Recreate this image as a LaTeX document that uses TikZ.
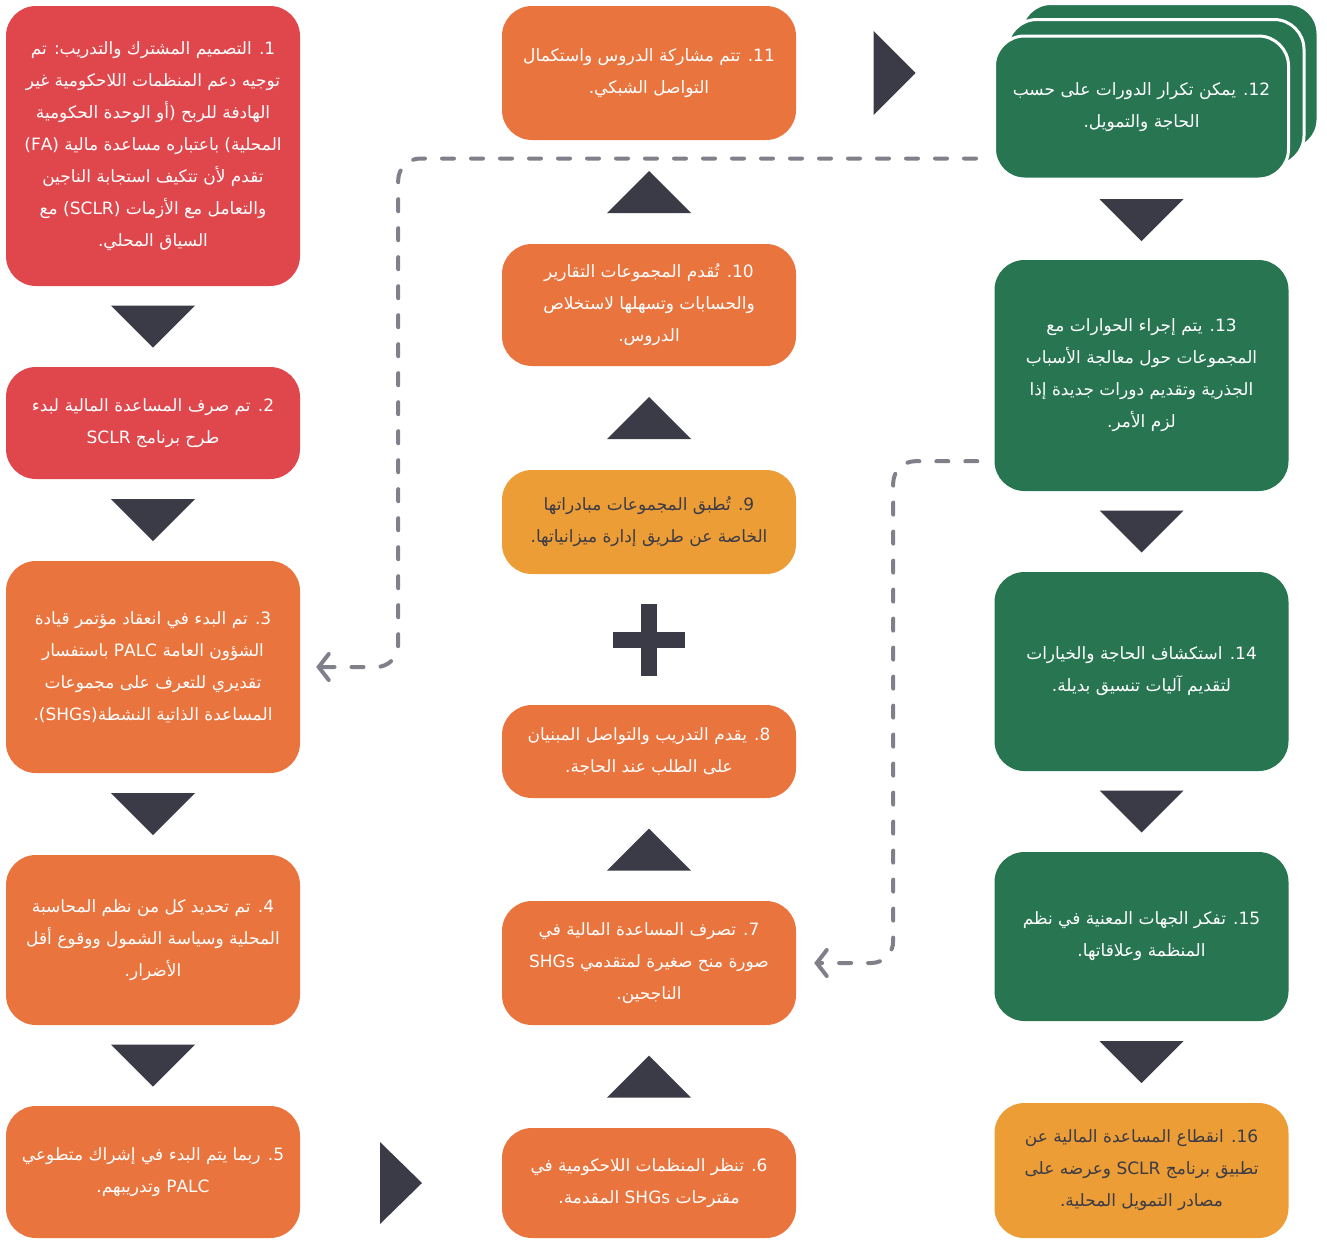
\documentclass[tikz,border=0pt]{standalone}
\usepackage{fontspec}
\usetikzlibrary{calc,arrows.meta,backgrounds}
\TeXXeTstate=1
\newfontfamily\arabicfont[Script=Arabic]{DejaVu Sans}
\definecolor{cRed}{HTML}{E0474C}
\definecolor{cOrange}{HTML}{EA743E}
\definecolor{cAmber}{HTML}{EC9D36}
\definecolor{cGreen}{HTML}{287552}
\definecolor{cDark}{HTML}{3B3B47}
\definecolor{cDash}{HTML}{80808A}
\newcommand\RL[1]{\beginR #1\endR}
\newcommand\downtri[2]{\fill[cDark] ($(#1.south)!.5!(#2.north)$) +(-42,-21) -- +(42,-21) -- +(0,21) -- cycle;}
\newcommand\uptri[2]{\fill[cDark] ($(#1.north)!.5!(#2.south)$) +(-42,21) -- +(42,21) -- +(0,-21) -- cycle;}
\begin{document}
\begin{tikzpicture}[x=1pt,y=-1pt,
  box/.style={rounded corners=30pt, minimum width=294pt, inner sep=0pt, align=center,
    text=white, font=\arabicfont\fontsize{17}{32}\selectfont},
  redbox/.style={box, fill=cRed},
  orbox/.style={box, fill=cOrange},
  ambox/.style={box, fill=cAmber, text=cDark},
  grbox/.style={box, fill=cGreen},
  stackbox/.style={grbox, draw=white, line width=3pt},
  dashline/.style={draw=cDash, line width=4pt, line cap=round, dash pattern=on 12pt off 17pt,
    rounded corners=22pt, -{Straight Barb[length=10pt,width=26pt,line cap=round]}}]
\useasboundingbox (0,0) rectangle (1327,1240);
\begin{scope}[on background layer]
\fill[white] (0,0) rectangle (1327,1240);
\end{scope}

% left column
\node[redbox, minimum height=280pt] (n1) at (153,146) {\RL{1. التصميم المشترك والتدريب: تم}\\\RL{توجيه دعم المنظمات اللاحكومية غير}\\\RL{الهادفة للربح (أو الوحدة الحكومية}\\\RL{المحلية) باعتباره مساعدة مالية (FA)}\\\RL{تقدم لأن تتكيف استجابة الناجين}\\\RL{والتعامل مع الأزمات (SCLR) مع}\\\RL{السياق المحلي.}};
\node[redbox, minimum height=112pt] (n2) at (153,423) {\RL{2. تم صرف المساعدة المالية لبدء}\\\RL{طرح برنامج SCLR}};
\node[orbox, minimum height=212pt] (n3) at (153,667) {\RL{3. تم البدء في انعقاد مؤتمر قيادة}\\\RL{الشؤون العامة PALC باستفسار}\\\RL{تقديري للتعرف على مجموعات}\\\RL{المساعدة الذاتية النشطة(SHGs).}};
\node[orbox, minimum height=170pt] (n4) at (153,940) {\RL{4. تم تحديد كل من نظم المحاسبة}\\\RL{المحلية وسياسة الشمول ووقوع أقل}\\\RL{الأضرار.}};
\node[orbox, minimum height=132pt] (n5) at (153,1172) {\RL{5. ربما يتم البدء في إشراك متطوعي}\\\RL{PALC وتدريبهم.}};

% middle column
\node[orbox, minimum height=134pt] (n11) at (649,73) {\RL{11. تتم مشاركة الدروس واستكمال}\\\RL{التواصل الشبكي.}};
\node[orbox, minimum height=122pt] (n10) at (649,305) {\RL{10. تُقدم المجموعات التقارير}\\\RL{والحسابات وتسهلها لاستخلاص}\\\RL{الدروس.}};
\node[ambox, minimum height=104pt] (n9) at (649,522) {\RL{9. تُطبق المجموعات مبادراتها}\\\RL{الخاصة عن طريق إدارة ميزانياتها.}};
\node[orbox, minimum height=93pt] (n8) at (649,751.5) {\RL{8. يقدم التدريب والتواصل المبنيان}\\\RL{على الطلب عند الحاجة.}};
\node[orbox, minimum height=124pt] (n7) at (649,963) {\RL{7. تصرف المساعدة المالية في}\\\RL{صورة منح صغيرة لمتقدمي SHGs}\\\RL{الناجحين.}};
\node[orbox, minimum height=110pt] (n6) at (649,1183) {\RL{6. تنظر المنظمات اللاحكومية في}\\\RL{مقترحات SHGs المقدمة.}};

% right column
\node[stackbox, minimum height=143pt] (n12) at (1141.5,107.5) {\RL{12. يمكن تكرار الدورات على حسب}\\\RL{الحاجة والتمويل.}};
\begin{scope}[on background layer]
\draw[fill=cGreen, draw=white, line width=3pt, rounded corners=30pt] ($(n12.south west)+(28,-31)$) rectangle ($(n12.north east)+(28,-31)$);
\draw[fill=cGreen, draw=white, line width=3pt, rounded corners=30pt] ($(n12.south west)+(14,-15)$) rectangle ($(n12.north east)+(14,-15)$);
\end{scope}
\node[grbox, minimum height=231pt] (n13) at (1141.5,375.5) {\RL{13. يتم إجراء الحوارات مع}\\\RL{المجموعات حول معالجة الأسباب}\\\RL{الجذرية وتقديم دورات جديدة إذا}\\\RL{لزم الأمر.}};
\node[grbox, minimum height=199pt] (n14) at (1141.5,671.5) {\RL{14. استكشاف الحاجة والخيارات}\\\RL{لتقديم آليات تنسيق بديلة.}};
\node[grbox, minimum height=169pt] (n15) at (1141.5,936.5) {\RL{15. تفكر الجهات المعنية في نظم}\\\RL{المنظمة وعلاقاتها.}};
\node[ambox, minimum height=135pt] (n16) at (1141.5,1170.5) {\RL{16. انقطاع المساعدة المالية عن}\\\RL{تطبيق برنامج SCLR وعرضه على}\\\RL{مصادر التمويل المحلية.}};

% block arrows
\downtri{n1}{n2}
\downtri{n2}{n3}
\downtri{n3}{n4}
\downtri{n4}{n5}
\uptri{n6}{n7}
\uptri{n7}{n8}
\uptri{n9}{n10}
\uptri{n10}{n11}
\downtri{n12}{n13}
\downtri{n13}{n14}
\downtri{n14}{n15}
\downtri{n15}{n16}
\coordinate (m56) at ($(n5.east)!.5!(n6.west)$);
\coordinate (m1112) at ($(n11.east)!.5!(n12.west)$);
\fill[cDark] (m56 |- n6.west) +(-21,-41) -- +(-21,41) -- +(21,0) -- cycle;
\fill[cDark] (m1112 |- n11.east) +(-21,-42) -- +(-21,42) -- +(21,0) -- cycle;
% plus sign
\coordinate (plus) at ($(n8.north)!.5!(n9.south)$);
\fill[cDark] (plus) +(-8,-36) rectangle +(8,36);
\fill[cDark] (plus) +(-36,-8) rectangle +(36,8);

% dashed feedback connectors
\coordinate (dA) at ($(n12.south west)+(-17,-22)$);
\coordinate (eA) at ($(n3.east)+(16,0)$);
\draw[dashline] (dA) -| ($(eA)+(82,0)$) -- (eA);
\coordinate (dB) at ($(n13.south west)+(-17,-30)$);
\coordinate (eB) at ($(n7.east)+(18,0)$);
\draw[dashline] (dB) -| ($(eB)+(79,0)$) -- (eB);
\end{tikzpicture}
\end{document}
